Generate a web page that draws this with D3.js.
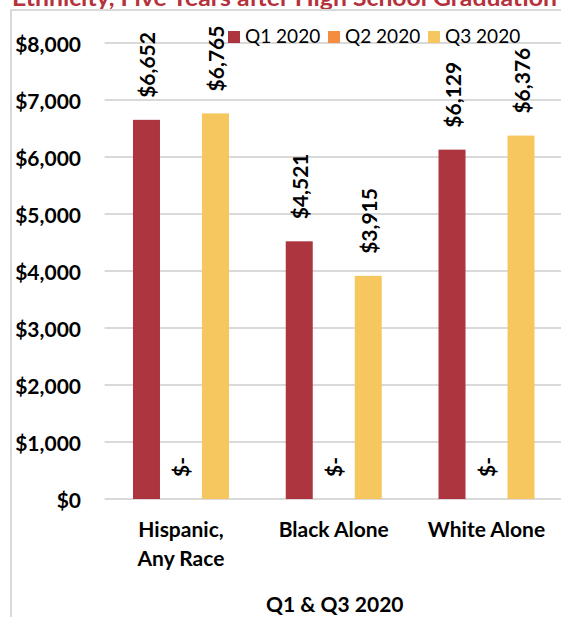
<!DOCTYPE html>
<html>
<head>
<meta charset="utf-8">
<script src="https://cdn.jsdelivr.net/npm/d3@7/dist/d3.min.js"></script>
<style>
  html, body { margin: 0; padding: 0; background: #fff; overflow: hidden; }
  svg { display: block; font-family: Lato, "Noto Sans", sans-serif; }
</style>
</head>
<body>
<svg id="chart" width="561" height="617"></svg>
<script>
// Earnings by ethnicity, Q1 and Q3 2020
const categories = [["Hispanic,", "Any Race"], ["Black Alone"], ["White Alone"]];
const categoryKeys = ["Hispanic, Any Race", "Black Alone", "White Alone"];
const seriesNames = ["Q1 2020", "Q2 2020", "Q3 2020"];
const q1Values = [6652, 4521, 6129];
const q2Values = [0, 0, 0];
const q3Values = [6765, 3915, 6376];
const yTicks = [0, 1000, 2000, 3000, 4000, 5000, 6000, 7000, 8000];
const titleText = "Ethnicity, Five Years after High School Graduation";
const axisTitle = "Q1 & Q3 2020";

const colors = ["#ad3540", "#f58d40", "#f5c75e"];
const seriesValues = [q1Values, q2Values, q3Values];

const svg = d3.select("#chart");

// Title sits above the chart frame and is partly cut off by the top edge
svg.append("text")
  .attr("x", 12).attr("y", 6)
  .attr("font-size", 22).attr("font-weight", 700)
  .attr("fill", "#b5323c")
  .attr("textLength", 545).attr("lengthAdjust", "spacingAndGlyphs")
  .text(titleText);

// Chart frame
svg.append("path")
  .attr("d", "M11,620 V10 H570")
  .attr("fill", "none").attr("stroke", "#d9d9d9").attr("stroke-width", 2);

const plotLeft = 104.6, plotRight = 562.9;
const y = d3.scaleLinear().domain([0, 8000]).range([499, 43]);
const x0 = d3.scaleBand().domain(categoryKeys).range([plotLeft, plotRight]);
const p = 7.5 / 34.5;
const x1 = d3.scaleBand().domain(seriesNames)
  .range([x0.bandwidth() / 2 - 1.5 * 34.5, x0.bandwidth() / 2 + 1.5 * 34.5])
  .paddingInner(p).paddingOuter(p / 2);

// Gridlines
svg.append("g").selectAll("line").data(yTicks).join("line")
  .attr("x1", plotLeft).attr("x2", plotRight)
  .attr("y1", d => y(d)).attr("y2", d => y(d))
  .attr("stroke", "#d9d9d9").attr("stroke-width", 2);

// Y axis labels
const fmt = d3.format(",");
svg.append("g").selectAll("text").data(yTicks).join("text")
  .attr("x", 81).attr("y", d => y(d))
  .attr("text-anchor", "end").attr("dominant-baseline", "central")
  .attr("font-size", 21).attr("font-weight", 700).attr("fill", "#000")
  .text(d => "$" + fmt(d));

// Bars
const rows = [];
categoryKeys.forEach((c, i) => {
  seriesNames.forEach((s, j) => rows.push({ cat: c, series: s, j, value: seriesValues[j][i] }));
});

svg.append("g").selectAll("rect").data(rows.filter(d => d.value > 0)).join("rect")
  .attr("x", d => x0(d.cat) + x1(d.series))
  .attr("y", d => y(d.value))
  .attr("width", x1.bandwidth())
  .attr("height", d => y(0) - y(d.value))
  .attr("fill", d => colors[d.j]);

// Value labels, rotated above each bar
svg.append("g").selectAll("text").data(rows).join("text")
  .attr("transform", d => {
    const cx = x0(d.cat) + x1(d.series) + x1.bandwidth() / 2;
    return `translate(${cx},${y(d.value) - 22}) rotate(-90)`;
  })
  .attr("text-anchor", "start").attr("dominant-baseline", "central")
  .attr("font-size", 21).attr("font-weight", 700).attr("fill", "#000")
  .text(d => d.value === 0 ? "$-" : "$" + fmt(d.value));

// Category labels
const catG = svg.append("g");
categoryKeys.forEach((c, i) => {
  const cx = x0(c) + x0.bandwidth() / 2;
  categories[i].forEach((line, k) => {
    catG.append("text")
      .attr("x", cx).attr("y", 537 + k * 29)
      .attr("text-anchor", "middle")
      .attr("font-size", 21).attr("font-weight", 700).attr("fill", "#000")
      .text(line);
  });
});

// Axis title
svg.append("text")
  .attr("x", (plotLeft + plotRight) / 2 + 1).attr("y", 612)
  .attr("text-anchor", "middle")
  .attr("font-size", 21).attr("font-weight", 700).attr("fill", "#000")
  .text(axisTitle);

// Legend
const legendX = [228, 328, 428];
const lg = svg.append("g").selectAll("g").data(seriesNames).join("g")
  .attr("transform", (d, i) => `translate(${legendX[i]},31)`);
lg.append("rect").attr("width", 12).attr("height", 12).attr("fill", (d, i) => colors[i]);
lg.append("text").attr("x", 17).attr("y", 11.5)
  .attr("font-size", 19).attr("fill", "#000")
  .text(d => d);
</script>
</body>
</html>
